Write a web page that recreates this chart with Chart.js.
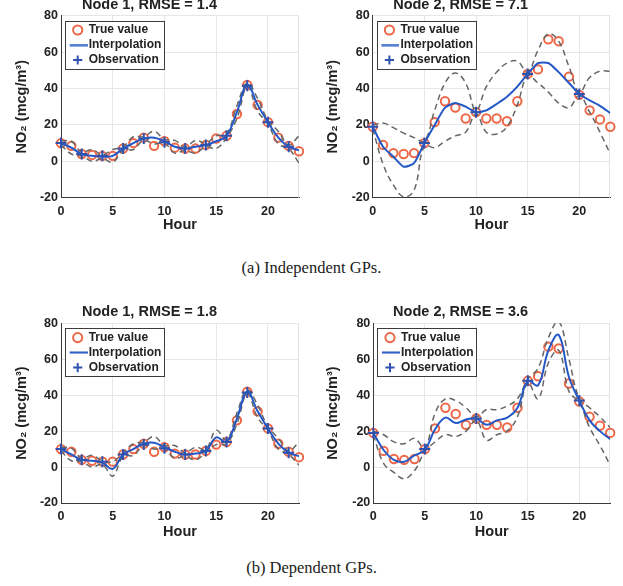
<!DOCTYPE html>
<html><head><meta charset="utf-8">
<script src="https://cdn.jsdelivr.net/npm/chart.js@4"></script>
<style>
html,body{margin:0;padding:0;background:#fff;}
body{width:623px;height:586px;position:relative;overflow:hidden;}
.panel{position:absolute;}
.cap{position:absolute;left:0;width:623px;text-align:center;line-height:20px;font-family:"Liberation Serif","Times New Roman",serif;font-size:16.5px;color:#222;}
</style></head><body>
<div class="panel" style="left:0px;top:0px;width:312px;height:234px"><canvas id="c1"></canvas></div>
<div class="panel" style="left:311px;top:0px;width:312px;height:234px"><canvas id="c2"></canvas></div>
<div class="panel" style="left:0px;top:295px;width:312px;height:245.4px"><canvas id="c3"></canvas></div>
<div class="panel" style="left:311px;top:295px;width:312px;height:245.4px"><canvas id="c4"></canvas></div>
<div class="cap" style="top:258px">(a) Independent GPs.</div>
<div class="cap" style="top:558px">(b) Dependent GPs.</div>
<script>
// ---------- data ----------
const hours = [0,1,2,3,4,5,6,7,8,9,10,11,12,13,14,15,16,17,18,19,20,21,22,23];
const xTicks = [0,5,10,15,20];
const yTicks = [-20,0,20,40,60,80];

const trueNode1 = [10,8.5,4,3.5,3,3,7,10,13,8.5,11,7.5,7,7,9,12.5,14,26,42,31,21.5,13,8.5,5.5];
const trueNode2 = [19,9,4.5,4,4.5,10,21.5,33,29.5,23.5,27,23.5,23.5,22,33,48,50.5,67,66,46.5,36.5,28,23,19];

const obsHoursNode1 = [0,2,4,6,8,10,12,14,16,18,20,22];
const obsNode1 = [10,4,3,7,12.5,10.5,7,9,14,41.5,21.5,8];
const obsHoursNode2 = [0,5,10,15,20];
const obsNode2 = [19,10,27,48,37];

// (a) independent GPs
const interpIndep1 = [10,7.5,4,3,2.5,3,7,10,12.5,13,11,8,7,8,9,11,14,27,42,31,21.5,13,8,6];
const upperIndep1  = [11,11,5,6.5,3.5,6.5,8,13.5,13.5,16.5,12,11.5,8,11.5,10,14,15,30.5,43,34.5,22.5,16.5,9,14];
const lowerIndep1  = [9,4,3,0,1.5,-0.5,6,6.5,11.5,9.5,10,4.5,6,4.5,8,7,13,23.5,41,27.5,20.5,9.5,7,-1];

const interpIndep2 = [19,8,2.5,-3,-1,10,20,29.5,32,30,27,28,31.5,35.5,41,48,54,54,49,43,37,33.5,30.5,26.5];
const upperIndep2  = [20,21,18.5,15.5,13,11,28,43,48.5,43,28,41,49,54,55,49,61,70,66,52,38,46,49.5,49.5];
const lowerIndep2  = [18,-1.5,-13,-19.5,-16,8.5,7.5,11,14,16,26,16,15,19,31,47,43,38,32,29.5,36,27,16,4];

// (b) dependent GPs
const interpDep1 = [10,7,4,3.5,2.5,-1,7,10,13,13.5,11,8.5,7,7.5,9,16.5,14,27,42,31,21.5,13,8,6];
const upperDep1  = [11,10.5,5,6.5,3.5,3,8,13,14,17,12,12,8,11,10,20.5,15,30,43,34.5,22.5,16,9,14];
const lowerDep1  = [9,3.5,3,0,1.5,-5,6,6.5,12,10,10,5,6,4,8,12.5,13,24,41,27.5,20.5,10,7,1];

const interpDep2 = [19,9.5,4,3,6.5,9.5,21,27.5,24.5,26.5,27,23.5,26,27.5,33,48,45.5,65,73.5,50,37,26,20,15.5];
const upperDep2  = [20,18,14,13,16,10.5,30,38,37,33,28,32,32,34,38,49,55,72,81,60,38,33,28,22];
const lowerDep2  = [18,2,-3,-6.5,-2,8.5,14,18,17,20,26,15,18,20,28,47,38,58,65,42,36,22,12,1];

const titles = ['Node 1, RMSE = 1.4','Node 2, RMSE = 7.1','Node 1, RMSE = 1.8','Node 2, RMSE = 3.6'];

// ---------- styles ----------
const FONT = '"Liberation Sans", Arial, Helvetica, sans-serif';
const ORANGE = '#EF6747';
const BLUE = '#2358C6';
const BLUE_OBS = '#2E52B0';
const GRAY = '#666666';
const TXT = '#222222';

function lineIcon(color){
  const c = document.createElement('canvas');
  c.width = 20; c.height = 3;
  const g = c.getContext('2d');
  g.fillStyle = color; g.fillRect(0, 0.5, 20, 2);
  return c;
}
const LINE_ICON = lineIcon(BLUE);

const toXY = (xs, ys) => xs.map((x, i) => ({x: x, y: ys[i]}));

const framePlugin = {
  id: 'frame',
  afterLayout(chart){
    const l = chart.legend, a = chart.chartArea;
    if (!l) return;
    l.left = a.left + 8.7; l.top = a.top + 5.3; l.right = a.right; l.bottom = a.bottom;
    if (!l.__wrapped){
      const orig = l.draw;
      l.draw = function(){
        const hb = this.legendHitBoxes || [];
        if (hb.length){
          let x0 = Infinity, y0 = Infinity, x1 = -Infinity, y1 = -Infinity;
          hb.forEach(h => { x0 = Math.min(x0, h.left); y0 = Math.min(y0, h.top); x1 = Math.max(x1, h.left + h.width); y1 = Math.max(y1, h.top + h.height); });
          const ctx = this.ctx;
          ctx.save();
          const L = Math.round(x0 - 7.7) + 0.5, T = Math.round(y0 - 3.3) + 0.5;
          const R = Math.round(x1 + 2.5) + 0.5, B = Math.round(y1 + 2.5) + 0.5;
          ctx.fillStyle = '#ffffff';
          ctx.fillRect(L, T, R - L, B - T);
          ctx.strokeStyle = '#3c3c3c'; ctx.lineWidth = 1;
          ctx.strokeRect(L, T, R - L, B - T);
          ctx.restore();
        }
        orig.apply(this, arguments);
      };
      l.__wrapped = true;
    }
  },
  beforeDatasetsDraw(chart){
    const {ctx, chartArea: a} = chart;
    ctx.save();
    ctx.strokeStyle = '#e2e2e2'; ctx.lineWidth = 1;
    const xr = Math.round(a.right) - 0.5;
    ctx.beginPath(); ctx.moveTo(xr, a.top); ctx.lineTo(xr, a.bottom); ctx.stroke();
    ctx.restore();
  }
};

// padTop: canvas space above the title (bottom row canvases start higher so their titles are not cut)
const panels = [
  {id:'c1', tv:trueNode1, oh:obsHoursNode1, ov:obsNode1, m:interpIndep1, up:upperIndep1, lo:lowerIndep1, left:61, right:299, padTop:0, bottom:197.7, H:234, tension:0.4},
  {id:'c2', tv:trueNode2, oh:obsHoursNode2, ov:obsNode2, m:interpIndep2, up:upperIndep2, lo:lowerIndep2, left:61.7, right:299.3, padTop:0, bottom:197.7, H:234, tension:0.2},
  {id:'c3', tv:trueNode1, oh:obsHoursNode1, ov:obsNode1, m:interpDep1, up:upperDep1, lo:lowerDep1, left:61, right:299, padTop:12.6, bottom:208, H:245.4, tension:0.4},
  {id:'c4', tv:trueNode2, oh:obsHoursNode2, ov:obsNode2, m:interpDep2, up:upperDep2, lo:lowerDep2, left:62.3, right:299.2, padTop:12.6, bottom:208, H:245.4, tension:0.4}
];

panels.forEach((p, k) => {
  const W = 312;
  const titleLH = 17.4, titleBlock = 15.7, titleShift = -4.2;
  new Chart(document.getElementById(p.id), {
    type: 'line',
    data: {
      datasets: [
        {label:'True value', data: toXY(hours, p.tv), showLine:false, pointStyle:'circle', pointRadius:4.2,
         pointBorderWidth:2, borderWidth:2, borderColor:ORANGE, pointBorderColor:ORANGE,
         backgroundColor:'rgba(0,0,0,0)', pointBackgroundColor:'rgba(0,0,0,0)', clip:false, order:4},
        {label:'Interpolation', data: toXY(hours, p.m), borderColor:BLUE, backgroundColor:BLUE, borderWidth:2,
         pointRadius:0, pointStyle:LINE_ICON, tension:p.tension, fill:false, order:2},
        {label:'Observation', data: toXY(p.oh, p.ov), showLine:false, pointStyle:'cross', pointRadius:5.5,
         pointBorderWidth:2, borderWidth:2, borderColor:BLUE_OBS, pointBorderColor:BLUE_OBS, backgroundColor:BLUE_OBS, clip:false, order:1},
        {label:'Upper bound', data: toXY(hours, p.up), borderColor:GRAY, borderWidth:1.5, borderDash:[6,4],
         pointRadius:0, tension:0.4, fill:false, order:3},
        {label:'Lower bound', data: toXY(hours, p.lo), borderColor:GRAY, borderWidth:1.5, borderDash:[6,4],
         pointRadius:0, tension:0.4, fill:false, order:3}
      ]
    },
    options: {
      responsive:true, maintainAspectRatio:false, animation:false,
      events: [],
      layout: {padding: {left:0, right: W - p.right, top:p.padTop, bottom:0}},
      plugins: {
        title: {display:true, text:titles[k], color:TXT, font:{family:FONT, size:14.5, weight:'bold'},
                padding:{top:titleShift, bottom: titleBlock - titleLH - titleShift}},
        legend: {position:'chartArea', align:'start',
          labels:{usePointStyle:true, boxWidth:10, boxHeight:6.5, padding:3, color:TXT,
                  font:{family:FONT, size:12, weight:'bold'},
                  filter: (it) => !/bound/.test(it.text),
                  sort: (a, b) => a.datasetIndex - b.datasetIndex}},
        tooltip: {enabled:false}
      },
      scales: {
        x: {type:'linear', min:0, max:23,
            afterFit: (s) => { s.height = p.H - p.bottom; },
            afterBuildTicks: (s) => { s.ticks = xTicks.map(v => ({value: v})); },
            ticks:{padding:6, color:TXT, font:{family:FONT, size:12.5, weight:'bold'}, maxRotation:0, autoSkip:false},
            grid:{color:'#e6e6e6', drawTicks:false, lineWidth:1},
            border:{display:true, color:'#3a3a3a', width:1},
            title:{display:true, text:'Hour', color:TXT, font:{family:FONT, size:14.5, weight:'bold'}, padding:{top:0, bottom:0}}},
        y: {type:'linear', min:-20, max:80,
            afterFit: (s) => { s.width = p.left; },
            afterBuildTicks: (s) => { s.ticks = yTicks.map(v => ({value: v})); },
            ticks:{padding:3, color:TXT, font:{family:FONT, size:12.5, weight:'bold'}, autoSkip:false},
            grid:{color:'#e6e6e6', drawTicks:false, lineWidth:1},
            border:{display:true, color:'#3a3a3a', width:1},
            title:{display:true, text:'NO₂ (mcg/m³)', color:TXT, font:{family:FONT, size:14.5, weight:'bold'}, padding:{top:13.3, bottom:0}}}
      }
    },
    plugins: [framePlugin]
  });
});
</script>
</body></html>
